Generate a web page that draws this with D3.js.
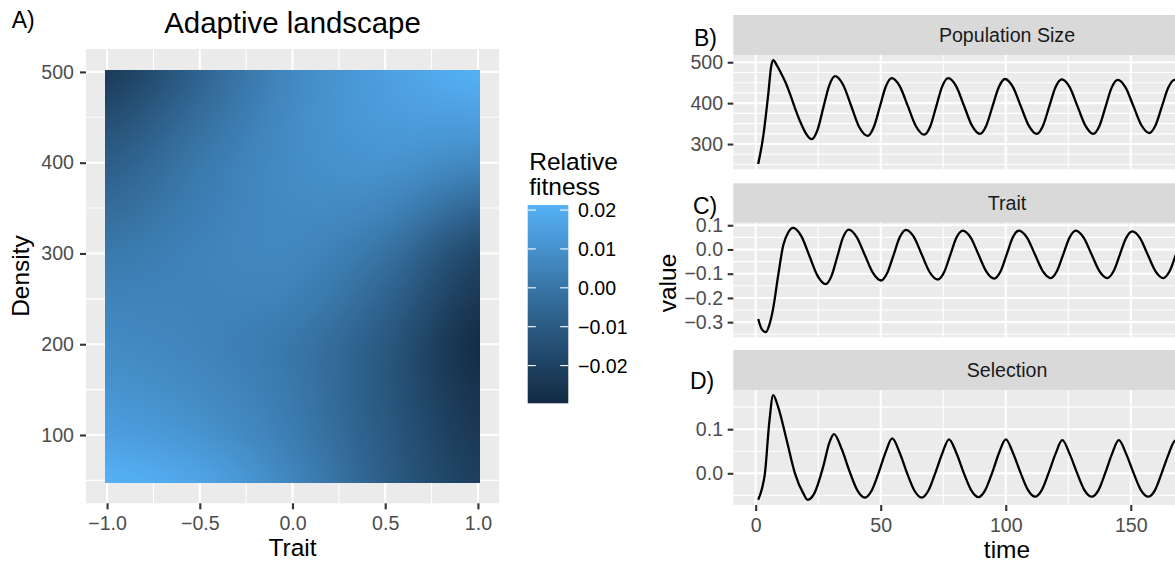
<!DOCTYPE html>
<html>
<head>
<meta charset="utf-8">
<script src="https://cdn.jsdelivr.net/npm/d3@7"></script>
<style>
  html, body { margin: 0; padding: 0; background: #ffffff; }
  #wrap { position: relative; width: 1175px; height: 562px; overflow: hidden; }
  #wrap svg { position: absolute; left: 0; top: 0; display: block; }
  #wrap canvas { position: absolute; display: block; }
</style>
</head>
<body>
<div id="wrap"><svg id="fig" width="1175" height="562"></svg></div>
<script>
// ---------- Adaptive landscape (relative fitness over trait x density) ----------
const landscapeTrait = [-1, -0.5, 0, 0.5, 1];
const landscapeDensity = [50, 100, 150, 200, 250, 300, 350, 400, 450, 500];
// one row per density value, one column per trait value
const relativeFitness = [
  [ 0.0213,  0.0172,  0.0060, -0.0094, -0.0221],
  [ 0.0152,  0.0111,  0.0030, -0.0104, -0.0247],
  [ 0.0111,  0.0075,  0.0015, -0.0114, -0.0272],
  [ 0.0080,  0.0055,  0.0008, -0.0109, -0.0297],
  [ 0.0050,  0.0050,  0.0045, -0.0065, -0.0250],
  [ 0.0012,  0.0050,  0.0068, -0.0010, -0.0190],
  [-0.0040,  0.0032,  0.0080,  0.0060, -0.0060],
  [-0.0094,  0.0012,  0.0088,  0.0111,  0.0068],
  [-0.0160, -0.0027,  0.0082,  0.0141,  0.0150],
  [-0.0237, -0.0068,  0.0075,  0.0152,  0.0213]
];
const traitTicks = [-1, -0.5, 0, 0.5, 1];
const densityTicks = [100, 200, 300, 400, 500];
const fitnessTicks = [-0.02, -0.01, 0, 0.01, 0.02];

// ---------- Time series ----------
const popTime = [1, 3, 5, 6.2, 7, 8.5, 10, 12, 14, 16, 18, 20, 22.4, 24.7, 27.05, 29.4, 31.7,
  34.95, 38.2, 41.45, 44.8, 47.2, 49.6, 52.0, 54.4, 57.65, 60.9, 64.15, 67.4, 69.8, 72.2, 74.6, 77.0,
  80.2, 83.35, 86.5, 89.7, 92.2, 94.7, 97.2, 99.7, 102.9, 106.05, 109.2, 112.4, 114.9, 117.4, 119.9, 122.4,
  125.55, 128.7, 131.85, 135.0, 137.45, 139.9, 142.35, 144.8, 147.95, 151.1, 154.25, 157.4, 159.9, 162.45,
  165.0, 167.5, 170.7, 173.9];
const popSize = [251, 318, 420, 490, 505, 492, 475, 450, 418, 383, 352, 327, 312, 334, 389, 443, 466,
  445, 393, 341, 320, 341, 390, 440, 461, 441, 392, 343, 323, 343, 392, 441, 461,
  441, 393, 345, 325, 345, 392, 439, 459, 439, 392, 345, 325, 345, 392, 439, 458,
  439, 392, 345, 325, 344, 391, 438, 457, 438, 392, 346, 327, 346, 392,
  438, 457, 438, 392];

const traitTime = [1, 2.5, 4.1, 5.5, 7.0, 9.0, 11.0, 13.0, 15.0, 18.25, 21.5, 24.75, 28.0, 30.3, 32.6,
  34.9, 37.2, 40.4, 43.65, 46.9, 50.1, 52.6, 55.1, 57.6, 60.1, 63.3, 66.45, 69.6, 72.8, 75.3, 77.8, 80.3,
  82.8, 86.0, 89.1, 92.25, 95.4, 97.9, 100.35, 102.8, 105.3, 108.5, 111.65, 114.8, 118.0, 120.5, 123.0,
  125.5, 128.0, 131.15, 134.3, 137.45, 140.6, 143.1, 145.6, 148.1, 150.6, 153.7, 156.8, 159.9, 163.0,
  165.5, 168.0, 170.5, 173.0];
const traitValue = [-0.287, -0.330, -0.341, -0.310, -0.243, -0.107, 0.016, 0.070, 0.089, 0.055, -0.027,
  -0.109, -0.143, -0.110, -0.031, 0.049, 0.082, 0.051, -0.023, -0.097, -0.128, -0.097, -0.024, 0.050,
  0.081, 0.051, -0.022, -0.094, -0.124, -0.095, -0.023, 0.049, 0.078, 0.049, -0.021, -0.091, -0.120,
  -0.091, -0.021, 0.049, 0.078, 0.049, -0.020, -0.089, -0.118, -0.089, -0.020, 0.049, 0.078, 0.049,
  -0.020, -0.089, -0.118, -0.090, -0.022, 0.047, 0.075, 0.047, -0.022, -0.090, -0.118, -0.090, -0.022,
  0.047, 0.075];

const selTime = [1, 2.5, 3.7, 5.4, 7.0, 9.0, 12.4, 15.7, 19.0, 20.8, 23.5, 27.0, 29.5, 31.3, 34.4, 37.5,
  40.6, 43.7, 46.4, 49.15, 51.9, 54.6, 57.55, 60.5, 63.45, 66.4, 69.1, 71.85, 74.6, 77.3, 80.25, 83.2,
  86.15, 89.1, 91.8, 94.55, 97.3, 100.0, 102.9, 105.85, 108.8, 111.7, 114.4, 117.15, 119.9, 122.6, 125.55,
  128.5, 131.45, 134.4, 137.1, 139.8, 142.5, 145.2, 148.15, 151.1, 154.05, 157.0, 159.7, 162.4, 165.1,
  167.8, 170.8, 173.7];
const selValue = [-0.060, -0.035, 0.000, 0.113, 0.177, 0.150, 0.075, 0.000, -0.045, -0.060, -0.045, 0.015,
  0.070, 0.089, 0.055, 0.005, -0.038, -0.055, -0.039, 0.001, 0.047, 0.079, 0.047, 0.001, -0.039, -0.055,
  -0.039, 0.001, 0.045, 0.077, 0.046, 0.001, -0.038, -0.054, -0.038, 0.001, 0.046, 0.077, 0.046, 0.002,
  -0.037, -0.053, -0.038, 0.001, 0.044, 0.075, 0.044, 0.001, -0.038, -0.053, -0.038, 0.001, 0.044, 0.075,
  0.044, 0.001, -0.038, -0.053, -0.038, 0.001, 0.043, 0.074, 0.043, 0.001];

const timeRange = [1, 200];
const timeTicks = [0, 50, 100, 150, 200];
const popTicks = [300, 400, 500];
const traitValueTicks = [-0.3, -0.2, -0.1, 0, 0.1];
const selTicks = [0, 0.1];

// ---------- helpers ----------
const FONT = '"Liberation Sans", Arial, Helvetica, sans-serif';
const svg = d3.select("#fig");
svg.append("rect").attr("width", 1175).attr("height", 562).attr("fill", "#ffffff");

const expand = (ext, m = 0.05) => { const r = ext[1] - ext[0]; return [ext[0] - r * m, ext[1] + r * m]; };
const midpoints = t => t.slice(1).map((v, i) => (v + t[i]) / 2);

function panel(g, x, y, xMajor, xMinor, yMajor, yMinor) {
  const [xl, xr] = x.range();
  const [yb, yt] = y.range();
  g.append("rect").attr("x", xl).attr("y", yt).attr("width", xr - xl).attr("height", yb - yt)
    .attr("fill", "#EBEBEB");
  const inY = v => { const p = y(v); return p >= yt - 0.5 && p <= yb + 0.5; };
  const inX = v => { const p = x(v); return p >= xl - 0.5 && p <= xr + 0.5; };
  const hl = (vals, w) => g.selectAll(null).data(vals.filter(inY)).join("line")
    .attr("x1", xl).attr("x2", xr).attr("y1", d => y(d)).attr("y2", d => y(d))
    .attr("stroke", "#ffffff").attr("stroke-width", w);
  const vl = (vals, w) => g.selectAll(null).data(vals.filter(inX)).join("line")
    .attr("y1", yt).attr("y2", yb).attr("x1", d => x(d)).attr("x2", d => x(d))
    .attr("stroke", "#ffffff").attr("stroke-width", w);
  hl(yMinor, 1.1); vl(xMinor, 1.1);
  hl(yMajor, 2.1); vl(xMajor, 2.1);
}

function styleAxis(sel, size) {
  sel.select(".domain").remove();
  sel.selectAll(".tick line").attr("stroke", "#333333").attr("stroke-width", 2.1);
  sel.selectAll(".tick text").attr("fill", "#4D4D4D").attr("font-size", size).attr("font-family", FONT);
}

// ================= Panel A: adaptive landscape =================
const traitHalf = 0.0125, densityHalf = 2.5;
const traitExtent = [d3.min(landscapeTrait) - traitHalf, d3.max(landscapeTrait) + traitHalf];
const densityExtent = [d3.min(landscapeDensity) - densityHalf, d3.max(landscapeDensity) + densityHalf];
const xA = d3.scaleLinear().domain(expand(traitExtent)).range([86, 499]);
const yA = d3.scaleLinear().domain(expand(densityExtent)).range([503.3, 49]);

const gA = svg.append("g");
panel(gA, xA, yA, traitTicks, midpoints(traitTicks), densityTicks,
  [50].concat(midpoints(densityTicks)));

const allFitness = relativeFitness.flat();
const colour = d3.scaleLinear().domain(d3.extent(allFitness))
  .range(["#132B43", "#56B1F7"]).interpolate(d3.interpolateLab);

// raster of grid values, smoothed when scaled onto the panel
(function drawRaster() {
  const nx = landscapeTrait.length, ny = landscapeDensity.length;
  const small = document.createElement("canvas");
  small.width = nx; small.height = ny;
  const sctx = small.getContext("2d");
  const img = sctx.createImageData(nx, ny);
  landscapeDensity.forEach((dens, j) => {
    const row = ny - 1 - j; // highest density at the top
    landscapeTrait.forEach((tr, i) => {
      const c = d3.rgb(colour(relativeFitness[j][i]));
      const k = (row * nx + i) * 4;
      img.data[k] = c.r; img.data[k + 1] = c.g; img.data[k + 2] = c.b; img.data[k + 3] = 255;
    });
  });
  sctx.putImageData(img, 0, 0);

  const left = Math.round(xA(traitExtent[0])), right = Math.round(xA(traitExtent[1]));
  const top = Math.round(yA(densityExtent[1])), bottom = Math.round(yA(densityExtent[0]));
  const cv = d3.select("#wrap").append("canvas")
    .attr("width", right - left).attr("height", bottom - top)
    .style("left", left + "px").style("top", top + "px")
    .style("width", (right - left) + "px").style("height", (bottom - top) + "px");
  const ctx = cv.node().getContext("2d");
  ctx.imageSmoothingEnabled = true;
  ctx.imageSmoothingQuality = "high";
  const tStep = (landscapeTrait[1] - landscapeTrait[0]) / 2;
  const dStep = (landscapeDensity[1] - landscapeDensity[0]) / 2;
  const x0 = xA(landscapeTrait[0] - tStep), x1 = xA(landscapeTrait[nx - 1] + tStep);
  const y0 = yA(landscapeDensity[ny - 1] + dStep), y1 = yA(landscapeDensity[0] - dStep);
  ctx.drawImage(small, x0 - left, y0 - top, x1 - x0, y1 - y0);
})();

const axAx = svg.append("g").attr("transform", "translate(0,503.3)")
  .call(d3.axisBottom(xA).tickValues(traitTicks).tickFormat(d3.format(".1f")).tickSize(6).tickPadding(7));
styleAxis(axAx, 19.6);
const axAy = svg.append("g").attr("transform", "translate(86,0)")
  .call(d3.axisLeft(yA).tickValues(densityTicks).tickFormat(d3.format("d")).tickSize(6).tickPadding(6));
styleAxis(axAy, 19.6);

svg.append("text").attr("x", 292.5).attr("y", 33).attr("text-anchor", "middle")
  .attr("font-family", FONT).attr("font-size", 29.4).attr("fill", "#000").text("Adaptive landscape");
svg.append("text").attr("x", 292.5).attr("y", 556).attr("text-anchor", "middle")
  .attr("font-family", FONT).attr("font-size", 24.5).attr("fill", "#000").text("Trait");
svg.append("text").attr("transform", "translate(28.5,276) rotate(-90)").attr("text-anchor", "middle")
  .attr("font-family", FONT).attr("font-size", 24.5).attr("fill", "#000").text("Density");

// colour bar legend
const legY = d3.scaleLinear().domain(colour.domain()).range([403.3, 205]);
const grad = svg.append("defs").append("linearGradient").attr("id", "fitGrad")
  .attr("x1", 0).attr("y1", 1).attr("x2", 0).attr("y2", 0);
d3.range(0, 1.0001, 0.05).forEach(f => {
  const v = colour.domain()[0] + f * (colour.domain()[1] - colour.domain()[0]);
  grad.append("stop").attr("offset", f).attr("stop-color", colour(v));
});
svg.append("rect").attr("x", 527.7).attr("y", legY.range()[1]).attr("width", 40.6)
  .attr("height", legY.range()[0] - legY.range()[1]).attr("fill", "url(#fitGrad)");
fitnessTicks.forEach(v => {
  const yy = legY(v);
  [[527.7, 535.8], [560.2, 568.3]].forEach(([a, b]) =>
    svg.append("line").attr("x1", a).attr("x2", b).attr("y1", yy).attr("y2", yy)
      .attr("stroke", "#ffffff").attr("stroke-width", 1.1));
  svg.append("text").attr("x", 578).attr("y", yy).attr("dy", "0.36em")
    .attr("font-family", FONT).attr("font-size", 19.6).attr("fill", "#000")
    .text(d3.format(".2f")(v));
});
svg.append("text").attr("x", 529.3).attr("y", 170).attr("font-family", FONT)
  .attr("font-size", 24.5).attr("fill", "#000").text("Relative");
svg.append("text").attr("x", 529.3).attr("y", 195).attr("font-family", FONT)
  .attr("font-size", 24.5).attr("fill", "#000").text("fitness");

svg.append("text").attr("x", 11.7).attr("y", 28.3).attr("font-family", FONT)
  .attr("font-size", 23).attr("fill", "#000").text("A)");

// ================= Panels B, C, D: time series =================
const xT = d3.scaleLinear().domain(expand(timeRange)).range([733.3, 1280.7]);
const timeMinor = midpoints(timeTicks).concat([-25, 225]);

const facets = [
  { label: "B)", lx: 694, ly: 45.7, strip: "Population Size", s0: 15, s1: 55, p0: 55, p1: 169.3,
    t: popTime, v: popSize, ticks: popTicks, fmt: d3.format("d"),
    minor: [250, 275, 325, 350, 375, 425, 450, 475] },
  { label: "C)", lx: 693, ly: 213.5, strip: "Trait", s0: 183.3, s1: 222.7, p0: 222.7, p1: 337.3,
    t: traitTime, v: traitValue, ticks: traitValueTicks, fmt: d3.format(".1f"),
    minor: [-0.35, -0.25, -0.15, -0.05, 0.05, 0.15] },
  { label: "D)", lx: 690, ly: 389, strip: "Selection", s0: 350, s1: 390, p0: 390, p1: 505,
    t: selTime, v: selValue, ticks: selTicks, fmt: d3.format(".1f"),
    minor: [-0.05, 0.05, 0.15] }
];

facets.forEach((f, i) => {
  const y = d3.scaleLinear().domain(expand(d3.extent(f.v))).range([f.p1, f.p0]);
  const g = svg.append("g");
  panel(g, xT, y, timeTicks, timeMinor, f.ticks, f.minor);

  const clipId = "clip" + i;
  svg.append("clipPath").attr("id", clipId).append("rect")
    .attr("x", 733.3).attr("y", f.p0).attr("width", 1280.7 - 733.3).attr("height", f.p1 - f.p0);
  const line = d3.line().x(d => xT(d[0])).y(d => y(d[1])).curve(d3.curveMonotoneX);
  g.append("path").datum(d3.zip(f.t, f.v)).attr("d", line)
    .attr("clip-path", `url(#${clipId})`)
    .attr("fill", "none").attr("stroke", "#000").attr("stroke-width", 2.3)
    .attr("stroke-linejoin", "round").attr("stroke-linecap", "butt");

  // strip
  svg.append("rect").attr("x", 733.3).attr("y", f.s0).attr("width", 1280.7 - 733.3)
    .attr("height", f.s1 - f.s0).attr("fill", "#D9D9D9");
  svg.append("text").attr("x", (733.3 + 1280.7) / 2).attr("y", (f.s0 + f.s1) / 2).attr("dy", "0.36em")
    .attr("text-anchor", "middle").attr("font-family", FONT).attr("font-size", 19.6)
    .attr("fill", "#1A1A1A").text(f.strip);

  const ay = svg.append("g").attr("transform", "translate(733.3,0)")
    .call(d3.axisLeft(y).tickValues(f.ticks).tickFormat(f.fmt).tickSize(5.6).tickPadding(4.6));
  styleAxis(ay, 19.6);

  svg.append("text").attr("x", f.lx).attr("y", f.ly).attr("font-family", FONT)
    .attr("font-size", 23).attr("fill", "#000").text(f.label);
});

const axT = svg.append("g").attr("transform", "translate(0,505)")
  .call(d3.axisBottom(xT).tickValues(timeTicks).tickFormat(d3.format("d")).tickSize(6).tickPadding(7));
styleAxis(axT, 19.6);

svg.append("text").attr("x", (733.3 + 1280.7) / 2).attr("y", 558).attr("text-anchor", "middle")
  .attr("font-family", FONT).attr("font-size", 24.5).attr("fill", "#000").text("time");
svg.append("text").attr("transform", "translate(675.5,283) rotate(-90)").attr("text-anchor", "middle")
  .attr("font-family", FONT).attr("font-size", 24.5).attr("fill", "#000").text("value");
</script>
</body>
</html>
